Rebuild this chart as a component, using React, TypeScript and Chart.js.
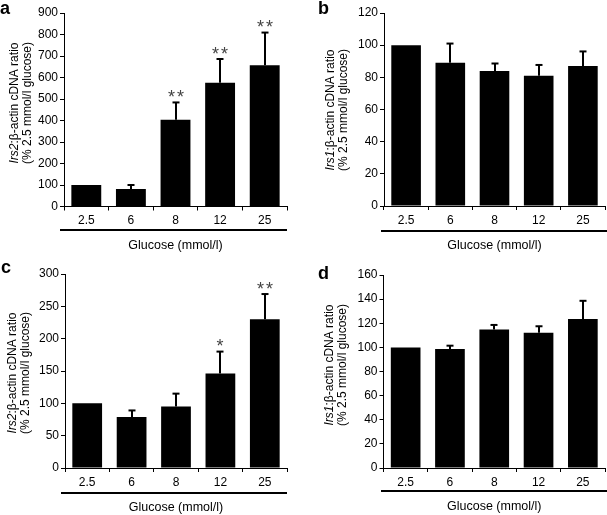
import React, { useEffect, useRef } from 'react';
import { Chart, registerables } from 'chart.js';
Chart.register(...registerables);

const FONT = '"Liberation Sans", Arial, Helvetica, sans-serif';

const glucoseLabels = ['2.5', '6', '8', '12', '25'];
const xAxisTitle = 'Glucose (mmol/l)';
const yTitleLine2 = '(% 2.5 mmol/l glucose)';

// Panel a: Irs2 (INS-1 cells)
const irs2AValues = [100, 81, 404, 576, 657];
const irs2AErrors = [0, 19, 80, 110, 152];
const irs2AStars = ['', '', '**', '**', '**'];
const irs2ATicks = { max: 900, step: 100 };

// Panel b: Irs1 (INS-1 cells)
const irs1BValues = [100, 89, 84, 81, 87];
const irs1BErrors = [0, 12, 4.6, 6.7, 9.1];
const irs1BStars = ['', '', '', '', ''];
const irs1BTicks = { max: 120, step: 20 };

// Panel c: Irs2 (islets)
const irs2CValues = [100, 79, 95, 146, 230];
const irs2CErrors = [0, 10, 20, 34, 39];
const irs2CStars = ['', '', '', '*', '**'];
const irs2CTicks = { max: 300, step: 50 };

// Panel d: Irs1 (islets)
const irs1DValues = [100, 98.6, 114.8, 112.1, 123.6];
const irs1DErrors = [0, 2.8, 3.8, 5.4, 15];
const irs1DStars = ['', '', '', '', ''];
const irs1DTicks = { max: 160, step: 20 };

type PanelCfg = {
  letter: string;
  gene: string;
  values: number[];
  errors: number[];
  stars: string[];
  ticks: { max: number; step: number };
  box: { left: number; top: number; width: number; height: number };
  plot: { left: number; top: number; bottom: number; right: number };
  letterPos: { x: number; y: number };
  yTitle: { x1: number; x2: number; yc: number };
  rule: { x1: number; x2: number; y: number };
  xTitleY: number;
  tickPad: number;
};

const panels: PanelCfg[] = [
  {
    letter: 'a', gene: 'Irs2', values: irs2AValues, errors: irs2AErrors, stars: irs2AStars, ticks: irs2ATicks,
    box: { left: 0, top: 0, width: 300, height: 255 },
    plot: { left: 64, top: 13, bottom: 206.5, right: 287 },
    letterPos: { x: 0, y: 13.5 },
    yTitle: { x1: 15, x2: 28, yc: 103 },
    rule: { x1: 60, x2: 287, y: 230 },
    xTitleY: 246,
    tickPad: 3,
  },
  {
    letter: 'b', gene: 'Irs1', values: irs1BValues, errors: irs1BErrors, stars: irs1BStars, ticks: irs1BTicks,
    box: { left: 300, top: 0, width: 307, height: 255 },
    plot: { left: 84, top: 13, bottom: 206, right: 305 },
    letterPos: { x: 18, y: 13.5 },
    yTitle: { x1: 31, x2: 44, yc: 110 },
    rule: { x1: 81, x2: 307, y: 231 },
    xTitleY: 246,
    tickPad: 3,
  },
  {
    letter: 'c', gene: 'Irs2', values: irs2CValues, errors: irs2CErrors, stars: irs2CStars, ticks: irs2CTicks,
    box: { left: 0, top: 255, width: 300, height: 260 },
    plot: { left: 65, top: 19, bottom: 213, right: 287 },
    letterPos: { x: 1, y: 18 },
    yTitle: { x1: 13, x2: 26, yc: 118 },
    rule: { x1: 61, x2: 287, y: 238 },
    xTitleY: 253,
    tickPad: 3,
  },
  {
    letter: 'd', gene: 'Irs1', values: irs1DValues, errors: irs1DErrors, stars: irs1DStars, ticks: irs1DTicks,
    box: { left: 300, top: 255, width: 307, height: 260 },
    plot: { left: 83.5, top: 20, bottom: 213, right: 305 },
    letterPos: { x: 18, y: 24 },
    yTitle: { x1: 30, x2: 43, yc: 110 },
    rule: { x1: 81, x2: 307, y: 236 },
    xTitleY: 252,
    tickPad: 3,
  },
];

function Panel({ cfg }: { cfg: PanelCfg }) {
  const ref = useRef<HTMLCanvasElement>(null);
  useEffect(() => {
    const canvas = ref.current;
    if (!canvas) return;
    const extras = {
      id: 'extras',
      afterDatasetsDraw(chart: any) {
        const ctx = chart.ctx as CanvasRenderingContext2D;
        const meta = chart.getDatasetMeta(0);
        const ys = chart.scales.y;
        ctx.save();
        meta.data.forEach((bar: any, i: number) => {
          const v = cfg.values[i];
          const e = cfg.errors[i];
          const x = Math.round(bar.x);
          const yTop = ys.getPixelForValue(v + e);
          if (e > 0) {
            ctx.strokeStyle = '#000';
            ctx.lineWidth = 2;
            ctx.beginPath();
            ctx.moveTo(x, bar.y);
            ctx.lineTo(x, yTop);
            ctx.stroke();
            ctx.beginPath();
            ctx.moveTo(x - 3.5, yTop);
            ctx.lineTo(x + 3.5, yTop);
            ctx.stroke();
          }
          const s = cfg.stars[i];
          if (s) {
            ctx.font = `18px ${FONT}`;
            ctx.fillStyle = '#444';
            ctx.textAlign = 'center';
            ctx.textBaseline = 'alphabetic';
            const m = ctx.measureText('*');
            const yc = yTop - 9;
            const base = yc + (m.actualBoundingBoxAscent - m.actualBoundingBoxDescent) / 2;
            const n = s.length;
            for (let k = 0; k < n; k++) {
              const dx = (k - (n - 1) / 2) * 9;
              ctx.fillText('*', x + dx, base);
            }
          }
        });
        ctx.restore();
      },
      afterDraw(chart: any) {
        const ctx = chart.ctx as CanvasRenderingContext2D;
        const area = chart.chartArea;
        ctx.save();
        // panel letter
        ctx.fillStyle = '#000';
        ctx.font = `bold 18px ${FONT}`;
        ctx.textAlign = 'left';
        ctx.textBaseline = 'alphabetic';
        ctx.fillText(cfg.letter, cfg.letterPos.x, cfg.letterPos.y);
        // rule under category labels
        ctx.strokeStyle = '#000';
        ctx.lineWidth = 2;
        ctx.beginPath();
        ctx.moveTo(cfg.rule.x1, cfg.rule.y);
        ctx.lineTo(cfg.rule.x2, cfg.rule.y);
        ctx.stroke();
        // x title
        ctx.font = `12.5px ${FONT}`;
        ctx.textAlign = 'center';
        ctx.textBaseline = 'middle';
        ctx.fillText(xAxisTitle, (area.left + area.right) / 2, cfg.xTitleY);
        // y title (rotated, two lines)
        const fs = 12;
        const italic = `italic ${fs}px ${FONT}`;
        const normal = `${fs}px ${FONT}`;
        const rest = ':\u03b2-actin cDNA ratio';
        ctx.font = italic;
        const wGene = ctx.measureText(cfg.gene).width;
        ctx.font = normal;
        const wRest = ctx.measureText(rest).width;
        const total = wGene + wRest;
        ctx.translate(cfg.yTitle.x1, cfg.yTitle.yc);
        ctx.rotate(-Math.PI / 2);
        ctx.textAlign = 'left';
        ctx.textBaseline = 'middle';
        ctx.font = italic;
        ctx.fillText(cfg.gene, -total / 2, 0);
        ctx.font = normal;
        ctx.fillText(rest, -total / 2 + wGene, 0);
        ctx.setTransform(1, 0, 0, 1, 0, 0);
        ctx.translate(cfg.yTitle.x2, cfg.yTitle.yc);
        ctx.rotate(-Math.PI / 2);
        ctx.textAlign = 'center';
        ctx.fillText(yTitleLine2, 0, 0);
        ctx.restore();
      },
    };

    const chart = new Chart(canvas, {
      type: 'bar',
      data: {
        labels: glucoseLabels,
        datasets: [
          {
            data: cfg.values,
            backgroundColor: '#000',
            borderWidth: 0,
            categoryPercentage: 1,
            barPercentage: 0.67,
          },
        ],
      },
      options: {
        responsive: false,
        animation: false,
        devicePixelRatio: 1,
        layout: {
          padding: {
            left: 0,
            top: cfg.plot.top,
            right: cfg.box.width - cfg.plot.right,
            bottom: 0,
          },
        },
        plugins: {
          legend: { display: false },
          tooltip: { enabled: false },
          title: { display: false },
        },
        scales: {
          x: {
            type: 'category',
            offset: true,
            grid: {
              offset: true,
              drawOnChartArea: false,
              drawTicks: true,
              tickLength: 4,
              color: '#000',
              lineWidth: 1,
            },
            border: { display: true, color: '#000', width: 1 },
            ticks: {
              color: '#000',
              font: { family: FONT, size: 12 },
              padding: cfg.tickPad,
              maxRotation: 0,
            },
            afterFit: (scale: any) => {
              scale.height = cfg.box.height - cfg.plot.bottom;
            },
          },
          y: {
            min: 0,
            max: cfg.ticks.max,
            grid: {
              drawOnChartArea: false,
              drawTicks: true,
              tickLength: 4,
              color: '#000',
              lineWidth: 1,
            },
            border: { display: true, color: '#000', width: 1 },
            ticks: {
              stepSize: cfg.ticks.step,
              color: '#000',
              font: { family: FONT, size: 12 },
              padding: 2,
            },
            afterFit: (scale: any) => {
              scale.width = cfg.plot.left;
            },
          },
        },
      },
      plugins: [extras],
    });
    return () => chart.destroy();
  }, [cfg]);

  return (
    <canvas
      ref={ref}
      width={cfg.box.width}
      height={cfg.box.height}
      style={{
        position: 'absolute',
        left: cfg.box.left,
        top: cfg.box.top,
        width: cfg.box.width,
        height: cfg.box.height,
      }}
    />
  );
}

export default function App() {
  return (
    <div style={{ position: 'absolute', left: 0, top: 0, width: 607, height: 515, background: '#fff' }}>
      {panels.map((p) => (
        <Panel key={p.letter} cfg={p} />
      ))}
    </div>
  );
}
